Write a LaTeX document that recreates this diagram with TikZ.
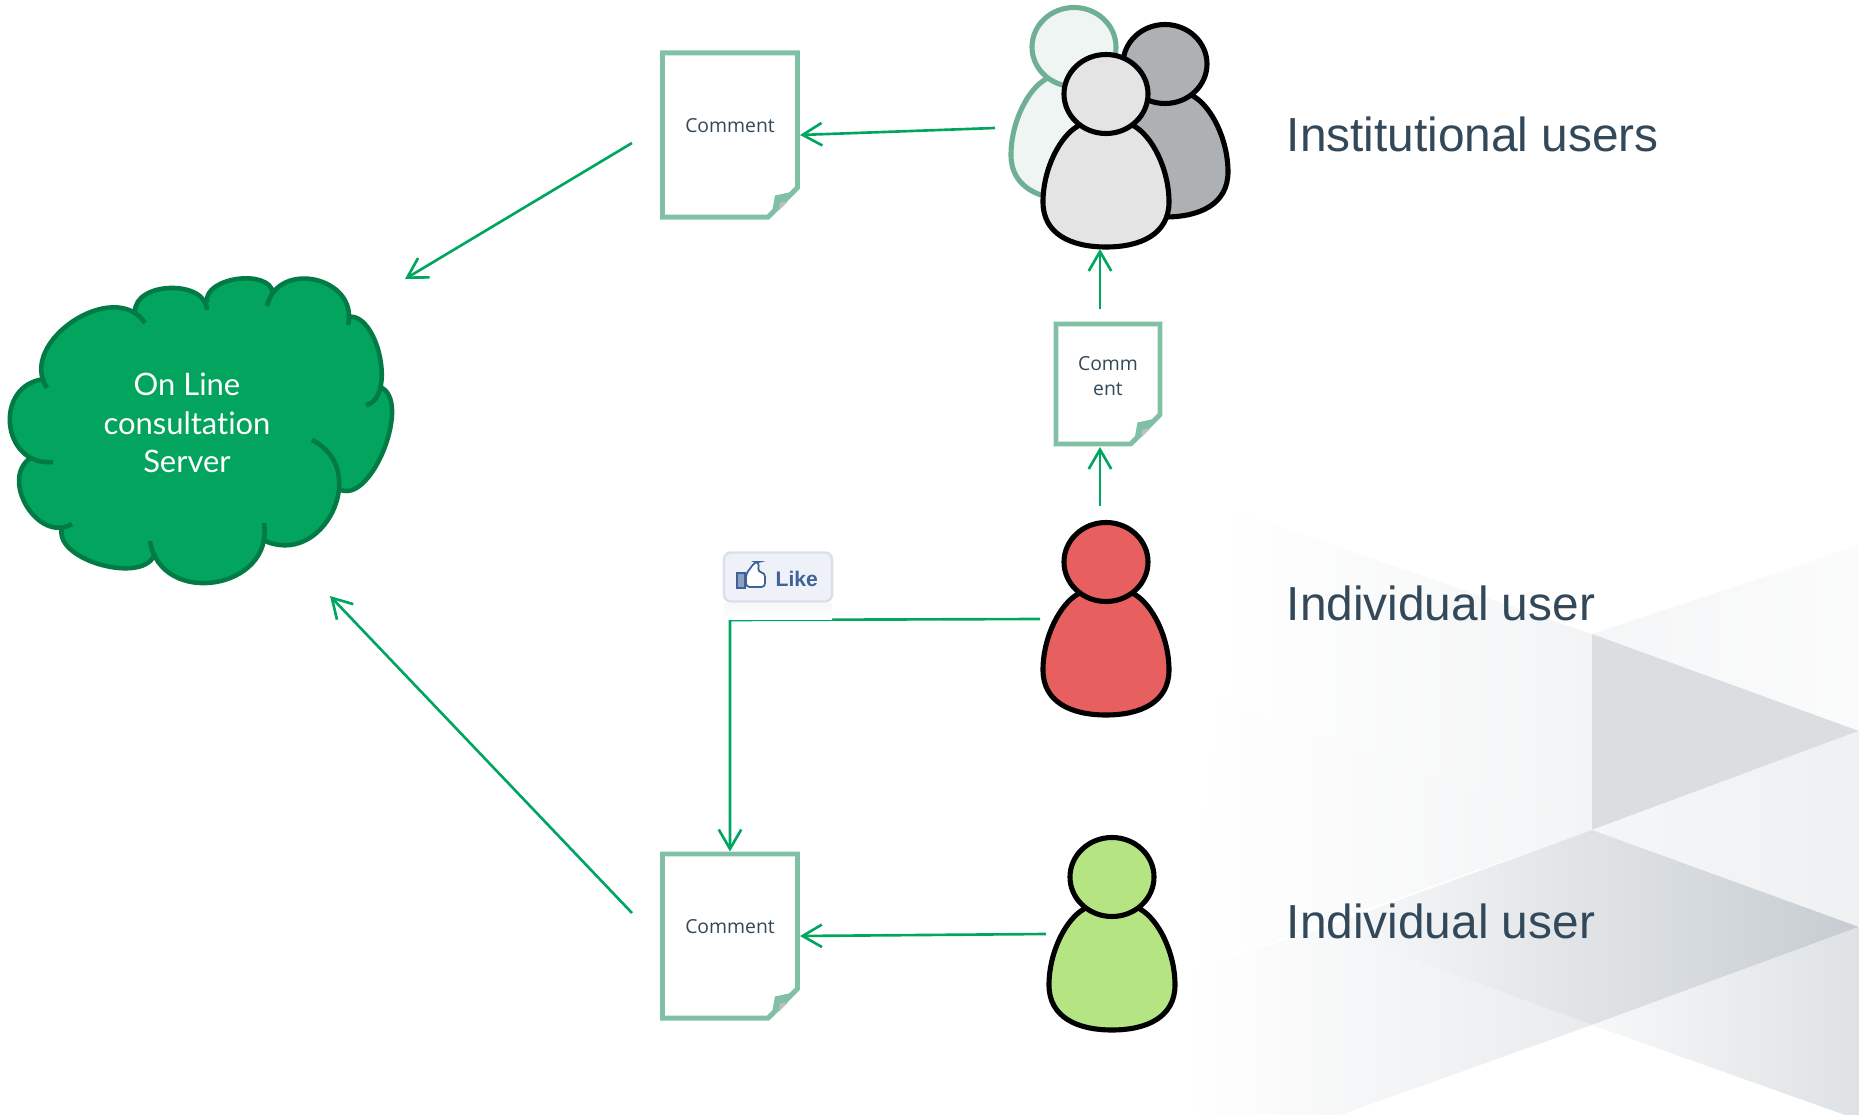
\documentclass[tikz,border=0pt]{standalone}
\usepackage{fontspec}
\setmainfont{Liberation Sans}
\newfontfamily\docfont{Open Sans}
\newfontfamily\srvfont[Ligatures=NoCommon]{Lato}
\usetikzlibrary{arrows.meta, calc, positioning, shapes.misc}
\definecolor{flowgreen}{HTML}{00A65F}
\definecolor{docgreen}{HTML}{80C1A6}
\definecolor{srvfill}{HTML}{03A45E}
\definecolor{srvline}{HTML}{027A45}
\definecolor{slate}{HTML}{33495A}
\definecolor{likeblue}{HTML}{3F6399}
\definecolor{likefill}{HTML}{EEF1F7}
\definecolor{likeline}{HTML}{D9E0EC}
\definecolor{usrpale}{HTML}{EFF5F2}
\definecolor{usrpaleline}{HTML}{6FB095}
\definecolor{usrgray}{HTML}{ADB1B4}
\definecolor{usrlight}{HTML}{E4E4E4}
\definecolor{usrred}{HTML}{E85F5F}
\definecolor{usrgreen}{HTML}{B5E583}
\tikzset{
  flow/.style={draw=flowgreen, line width=0.75pt, -{Straight Barb[length=5.5pt,width=6.4pt,line width=0.75pt]}},
  docbox/.style={chamfered rectangle, chamfered rectangle corners=south east,
    chamfered rectangle xsep=4.2pt, chamfered rectangle ysep=4.2pt,
    draw=docgreen, line width=1.4pt, fill=white, inner sep=0pt, align=center, text=slate,
    font=\docfont\fontsize{5.5}{7.1}\selectfont},
  userlabel/.style={anchor=base west, inner sep=0pt, text=slate, font=\fontsize{13.6}{15}\selectfont},
  pics/usr/.style n args={2}{code={
    \draw[fill=#1, draw=#2, line width=1.45pt]
      (-28,32) .. controls (-46,42) and (-63,75) .. (-63,108)
      .. controls (-63,140) and (-35,153) .. (0,153)
      .. controls (35,153) and (63,140) .. (63,108)
      .. controls (63,75) and (46,42) .. (28,32)
      .. controls (15,22) and (-15,22) .. (-28,32) -- cycle;
    \draw[fill=#1, draw=#2, line width=1.45pt] (0,0) ellipse (42 and 39.5);
  }}
}
\newcommand{\docfold}[1]{
  \path ($(#1.east |- #1.south)+(-2,-2)$) coordinate (corner);
  \fill[docgreen] ($(corner)+(0,-27)$) -- ($(corner)+(-23,-22)$) -- ($(corner)+(-27,0)$) -- cycle;
  \fill[black!25] ($(corner)+(-10,-16)$) -- ($(corner)+(-18,-15)$) -- ($(corner)+(-19,-7)$) -- cycle;
}
\def\srvlobes{47/388/145/323/1.2, 135/312/207/310/1.09, 207/302/273/293/.96, 267/306/348/325/1.5,
  347/317/366/405/.9, 380/387/341/490/.8, 312/440/263/540/1.53, 264/523/150/541/1.5,
  155/553/62/528/.9, 72/524/32/457/1.3, 53/462/45/379/1.6}
\begin{document}
\begin{tikzpicture}[x=0.01cm, y=-0.01cm]
  \useasboundingbox (0,0) rectangle (1859,1115);

  \shade[left color=white, right color=slate!6] (1221,700) -- (1592,830) -- (1186,972) -- cycle;
  \shade[left color=white, middle color=slate!2, right color=slate!6] (1221,507) -- (1592,634) -- (1592,830) -- (1221,700) -- cycle;
  \shade[left color=slate!5, right color=slate!2] (1592,634) -- (1859,545) -- (1859,731) -- cycle;
  \shade[left color=slate!18, middle color=slate!10, right color=slate!18] (1592,634) -- (1859,731) -- (1592,830) -- cycle;
  \shade[left color=slate!5, right color=slate!8] (1592,830) -- (1859,731) -- (1859,927) -- cycle;
  \shade[left color=white, right color=slate!11] (1186,972) -- (1325,927) -- (1592,1025) -- (1340,1115) -- (1186,1115) -- cycle;
  \shade[left color=slate!3, right color=slate!28] (1325,927) -- (1592,830) -- (1859,927) -- (1592,1025) -- cycle;
  \shade[left color=slate!4, right color=slate!16] (1592,1025) -- (1859,927) -- (1859,1115) -- (1845,1115) -- cycle;

  \foreach \ax/\ay/\bx/\by/\l in \srvlobes {
    \fill[srvfill] (\ax,\ay) to[bend left=90, looseness=\l] (\bx,\by) -- cycle;
  }
  \filldraw[srvfill, line width=1pt] (47,388) -- (135,312) -- (207,302) -- (273,293) -- (348,325) -- (380,387) -- (341,490)
    -- (263,540) -- (155,553) -- (62,528) -- (32,457) -- (45,379) -- cycle;
  \foreach \ax/\ay/\bx/\by/\l in \srvlobes {
    \draw[srvline, line width=1.3pt] (\ax,\ay) to[bend left=90, looseness=\l] (\bx,\by);
  }
  \node[text=white, align=center, font=\srvfont\fontsize{8.8}{10.95}\selectfont] (srv) at (187,423)
    {On Line\\consultation\\Server};

  \pic at (1074,47) {usr={usrpale}{usrpaleline}};
  \pic at (1165,64) {usr={usrgray}{black}};
  \pic at (1106,94) {usr={usrlight}{black}};
  \pic at (1106,562) {usr={usrred}{black}};
  \pic at (1112,877) {usr={usrgreen}{black}};

  \node[docbox, minimum width=135pt*0.2845, minimum height=164pt*0.2845, text depth=5.5pt] (docA) at (730,135) {Comment};
  \node[docbox, minimum width=104pt*0.2845, minimum height=120pt*0.2845, text depth=0pt] (docB) at (1108,384) {Comm\\ent\\[-2.7pt]};
  \node[docbox, minimum width=135pt*0.2845, minimum height=164pt*0.2845, text depth=5.5pt] (docC) at (730,936) {Comment};
  \docfold{docA}
  \docfold{docB}
  \docfold{docC}

  \coordinate (grpout) at (995,128);
  \coordinate (grpin) at (1100,249);
  \coordinate (docAout) at (632,143);
  \coordinate (srvtop) at (405,279);
  \coordinate (docBout) at (1100,309);
  \coordinate (docBin) at (1100,447);
  \coordinate (redup) at (1100,506);
  \coordinate (redout) at (1040,619);
  \coordinate (turn) at (730,620);
  \coordinate (greenout) at (1046,934);
  \coordinate (docCout) at (632,913);
  \coordinate (srvlow) at (330,596);

  \draw[flow] (grpout) -- (docA.east);
  \draw[flow] (docAout) -- (srvtop);
  \draw[flow] (docBout) -- (grpin);
  \draw[flow] (redup) -- (docBin);
  \draw[flow] (redout) -- (turn) -- (docC.north);
  \draw[flow] (greenout) -- (docC.east);
  \draw[flow] (docCout) -- (srvlow);

  \shade[top color=slate!4, bottom color=white] (724,603) rectangle (832,619);
  \node[draw=likeline, fill=likefill, line width=0.7pt, rounded corners=2pt,
    minimum width=108*0.2845pt, minimum height=49*0.2845pt, inner sep=0pt] (like) at (778,577) {};
  \node[text=likeblue, font=\bfseries\fontsize{6}{8}\selectfont, anchor=base west, inner sep=0pt] (liketxt) at (775,586) {Like};
  \draw[draw=likeblue, fill=likeblue!60!white, line width=0.4pt] (737,573) rectangle (745,588);
  \draw[draw=likeblue, fill=white, line width=0.5pt, rounded corners=1pt]
    (746,574) -- (755,562) -- (759,562) -- (758,572) -- (765,573) -- (765,587) -- (746,587) -- cycle;

  \node[userlabel] (lblgrp) at (1286,152) {Institutional users};
  \node[userlabel] (lblred) at (1286,620) {Individual user};
  \node[userlabel] (lblgreen) at (1286,938) {Individual user};
\end{tikzpicture}
\end{document}
